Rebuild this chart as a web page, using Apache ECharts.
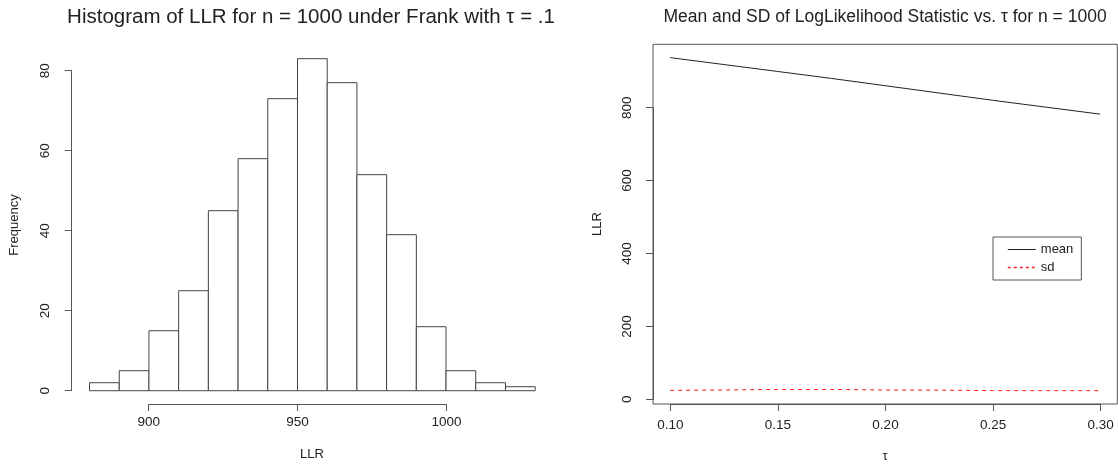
<!DOCTYPE html>
<html>
<head>
<meta charset="utf-8">
<script src="https://cdn.jsdelivr.net/npm/echarts@6/dist/echarts.min.js"></script>
<style>html,body{margin:0;padding:0;background:#fff;}#c{width:1118px;height:464px;}</style>
</head>
<body>
<div id="c"></div>
<script>
// Histogram data
const binEdges = [880, 890, 900, 910, 920, 930, 940, 950, 960, 970, 980, 990, 1000, 1010, 1020, 1030];
const binCounts = [2, 5, 15, 25, 45, 58, 73, 83, 77, 54, 39, 16, 5, 2, 1];
const histXTicks = [900, 950, 1000];
const histYTicks = [0, 20, 40, 60, 80];

// Line chart data
const tau = [0.10, 0.125, 0.15, 0.175, 0.20, 0.225, 0.25, 0.275, 0.30];
const meanLLR = [937, 918, 899, 880, 860, 840, 820, 801, 782];
const sdLLR = [24.5, 25.5, 27.0, 27.0, 25.5, 25.0, 23.8, 23.7, 23.6];
const lineXTicks = [0.10, 0.15, 0.20, 0.25, 0.30];
const lineYTicks = [0, 200, 400, 600, 800];

const histData = binCounts.map((c, i) => [binEdges[i], binEdges[i + 1], c]);

const FONT = 'Liberation Sans, Arial, sans-serif';
const TXT = '#222';
const AX = '#555';
const TICKFS = 13.5;
const MEANC = '#222';
const SDC = '#ff2020';

function pad(lo, hi) { const d = hi - lo; return [lo - 0.04 * d, hi + 0.04 * d]; }
const hx = pad(binEdges[0], binEdges[binEdges.length - 1]);
const hy = pad(0, Math.max(...binCounts));
const ly = pad(Math.min(...sdLLR, ...meanLLR), Math.max(...sdLLR, ...meanLLR));
const lx = pad(tau[0], tau[tau.length - 1]);

const hidden = { show: false };
function hiddenAxis(idx, extra) {
  return Object.assign({ type: 'value', gridIndex: idx, show: false }, extra || {});
}

const chart = echarts.init(document.getElementById('c'), null, { renderer: 'canvas' });
const option = {
  animation: false,
  backgroundColor: '#fff',
  textStyle: { fontFamily: FONT },
  grid: [
    { left: 71.7, width: 481.3, top: 45.4, height: 358.6 },               // 0 hist main
    { left: 148.7, width: 297.8, top: 403, height: 1 },                   // 1 hist x axis
    { left: 71.7, width: 1, top: 70.7, height: 320 },                     // 2 hist y axis
    { left: 653, width: 464.3, top: 44.3, height: 359.7, show: true, borderColor: AX, borderWidth: 1 }, // 3 line main
    { left: 670.3, width: 430.4, top: 403, height: 1 },                   // 4 line x axis
    { left: 653, width: 1, top: 107.7, height: 291.6 }                    // 5 line y axis
  ],
  xAxis: [
    hiddenAxis(0, { min: hx[0], max: hx[1] }),
    {
      type: 'value', gridIndex: 1, min: histXTicks[0], max: histXTicks[histXTicks.length - 1], interval: 50,
      axisLine: { show: true, lineStyle: { color: AX, width: 1 } },
      axisTick: { show: true, length: 7, lineStyle: { color: AX } },
      axisLabel: { color: TXT, fontSize: TICKFS, margin: 11, fontFamily: FONT, formatter: v => String(v) },
      splitLine: hidden
    },
    hiddenAxis(2, { min: 0, max: 1 }),
    hiddenAxis(3, { min: lx[0], max: lx[1] }),
    {
      type: 'value', gridIndex: 4, min: lineXTicks[0], max: lineXTicks[lineXTicks.length - 1], interval: 0.05,
      axisLine: { show: true, lineStyle: { color: AX, width: 1 } },
      axisTick: { show: true, length: 7, lineStyle: { color: AX } },
      axisLabel: { color: TXT, fontSize: TICKFS, margin: 14, fontFamily: FONT, formatter: v => v.toFixed(2) },
      splitLine: hidden
    },
    hiddenAxis(5, { min: 0, max: 1 })
  ],
  yAxis: [
    hiddenAxis(0, { min: hy[0], max: hy[1] }),
    hiddenAxis(1, { min: 0, max: 1 }),
    {
      type: 'value', gridIndex: 2, min: histYTicks[0], max: histYTicks[histYTicks.length - 1], interval: 20,
      axisLine: { show: true, lineStyle: { color: AX, width: 1 } },
      axisTick: { show: true, length: 7, lineStyle: { color: AX } },
      axisLabel: { color: TXT, fontSize: TICKFS, margin: 19, rotate: 90, fontFamily: FONT },
      splitLine: hidden
    },
    hiddenAxis(3, { min: ly[0], max: ly[1] }),
    hiddenAxis(4, { min: 0, max: 1 }),
    {
      type: 'value', gridIndex: 5, min: lineYTicks[0], max: lineYTicks[lineYTicks.length - 1], interval: 200,
      axisLine: { show: true, lineStyle: { color: AX, width: 1 } },
      axisTick: { show: true, length: 7, lineStyle: { color: AX } },
      axisLabel: { color: TXT, fontSize: TICKFS, margin: 19, rotate: 90, fontFamily: FONT },
      splitLine: hidden
    }
  ],
  legend: {
    orient: 'vertical',
    left: 993, top: 237,
    padding: [6, 8, 6, 14],
    borderColor: AX, borderWidth: 1,
    itemWidth: 28, itemHeight: 10, itemGap: 5,
    textStyle: { color: TXT, fontSize: 13, fontFamily: FONT },
    data: [
      { name: 'mean', itemStyle: { opacity: 0 }, lineStyle: { color: MEANC, width: 1, type: 'solid' } },
      { name: 'sd', itemStyle: { opacity: 0 }, lineStyle: { color: SDC, width: 1.6, type: [3, 3] } }
    ]
  },
  graphic: [
    { type: 'text', x: 311, y: 17, style: { text: 'Histogram of LLR for n = 1000 under Frank with τ = .1', fill: TXT, font: '20.5px ' + FONT, textAlign: 'center', textVerticalAlign: 'middle' } },
    { type: 'text', x: 885, y: 17, style: { text: 'Mean and SD of LogLikelihood Statistic vs. τ for n = 1000', fill: TXT, font: '17.5px ' + FONT, textAlign: 'center', textVerticalAlign: 'middle' } },
    { type: 'text', x: 312, y: 454, style: { text: 'LLR', fill: TXT, font: '13px ' + FONT, textAlign: 'center', textVerticalAlign: 'middle' } },
    { type: 'text', x: 885, y: 456, style: { text: 'τ', fill: TXT, font: '13px ' + FONT, textAlign: 'center', textVerticalAlign: 'middle' } },
    { type: 'text', x: 14, y: 225, rotation: Math.PI / 2, style: { text: 'Frequency', fill: TXT, font: '13px ' + FONT, textAlign: 'center', textVerticalAlign: 'middle' } },
    { type: 'text', x: 597, y: 224, rotation: Math.PI / 2, style: { text: 'LLR', fill: TXT, font: '13px ' + FONT, textAlign: 'center', textVerticalAlign: 'middle' } }
  ],
  series: [
    {
      type: 'custom', name: 'hist', xAxisIndex: 0, yAxisIndex: 0,
      data: histData,
      encode: { x: [0, 1], y: 2 },
      renderItem: function (params, api) {
        const p0 = api.coord([api.value(0), api.value(2)]);
        const p1 = api.coord([api.value(1), 0]);
        return {
          type: 'rect',
          shape: { x: p0[0], y: p0[1], width: p1[0] - p0[0], height: p1[1] - p0[1] },
          style: { fill: '#fff', stroke: '#444', lineWidth: 1 }
        };
      }
    },
    {
      type: 'line', name: 'mean', xAxisIndex: 3, yAxisIndex: 3,
      data: tau.map((t, i) => [t, meanLLR[i]]),
      symbol: 'none', color: MEANC,
      lineStyle: { color: MEANC, width: 1 }
    },
    {
      type: 'line', name: 'sd', xAxisIndex: 3, yAxisIndex: 3,
      data: tau.map((t, i) => [t, sdLLR[i]]),
      symbol: 'none', color: SDC,
      lineStyle: { color: SDC, width: 1, type: [4, 4] }
    }
  ]
};
chart.setOption(option);
</script>
</body>
</html>
